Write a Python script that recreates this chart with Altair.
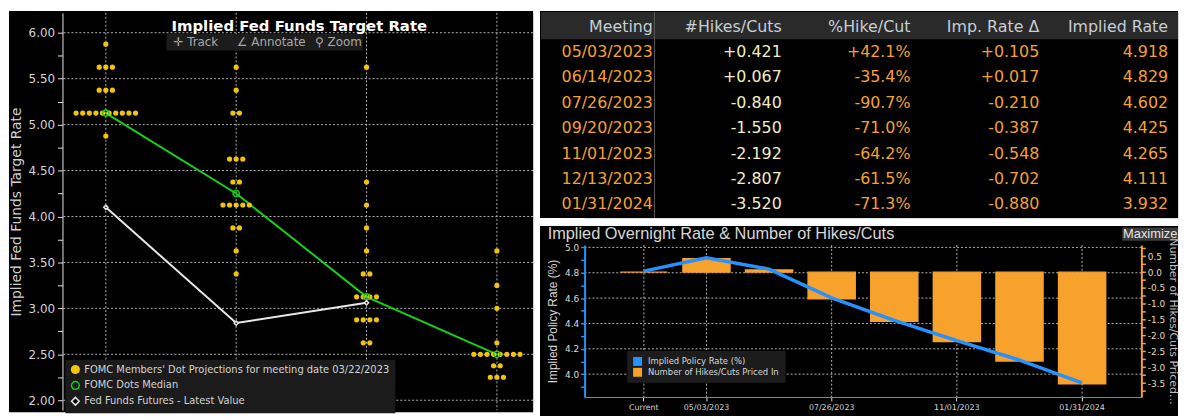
import altair as alt
import pandas as pd

# ---------------- Left panel: FOMC dot plot ----------------
dot_years = ["2023", "2024", "2025", "Longer run"]
rates_2023 = [5.875, 5.625, 5.375, 5.125, 4.875]
counts_2023 = [1, 3, 3, 10, 1]
rates_2024 = [5.625, 5.375, 5.125, 4.625, 4.375, 4.125, 3.875, 3.625, 3.375]
counts_2024 = [1, 1, 2, 3, 2, 5, 2, 1, 1]
rates_2025 = [5.625, 4.375, 4.125, 3.875, 3.625, 3.375, 3.125, 2.875, 2.625, 2.375]
counts_2025 = [1, 1, 1, 1, 1, 2, 4, 4, 2, 1]
rates_lr = [3.625, 3.25, 3.0, 2.625, 2.5, 2.375, 2.25]
counts_lr = [1, 1, 1, 1, 8, 2, 3]
median_rates = [5.125, 4.25, 3.125, 2.5]
futures_years = ["2023", "2024", "2025"]
futures_rates = [4.10, 2.84, 3.06]
left_series = [
    "FOMC Members' Dot Projections for meeting date 03/22/2023",
    "FOMC Dots Median",
    "Fed Funds Futures - Latest Value",
]
left_yticks = [2.0, 2.25, 2.5, 2.75, 3.0, 3.25, 3.5, 3.75, 4.0, 4.25, 4.5,
               4.75, 5.0, 5.25, 5.5, 5.75, 6.0]
left_ygrid = [2.0, 2.5, 3.0, 3.5, 4.0, 4.5, 5.0, 5.5, 6.0]
toolbar_items = ["✛ Track", "∠ Annotate", "⚲ Zoom"]

# ---------------- Table ----------------
table_cols = ["Meeting", "#Hikes/Cuts", "%Hike/Cut", "Imp. Rate Δ", "Implied Rate"]
meetings = ["05/03/2023", "06/14/2023", "07/26/2023", "09/20/2023",
            "11/01/2023", "12/13/2023", "01/31/2024"]
hikes = [0.421, 0.067, -0.840, -1.550, -2.192, -2.807, -3.520]
pct_hike = [42.1, -35.4, -90.7, -71.0, -64.2, -61.5, -71.3]
rate_delta = [0.105, 0.017, -0.210, -0.387, -0.548, -0.702, -0.880]
implied = [4.918, 4.829, 4.602, 4.425, 4.265, 4.111, 3.932]

# ---------------- Bottom-right chart ----------------
bot_cats = ["Current"] + meetings
bot_rate = [4.813] + implied
bot_hikes = [0.0] + hikes
bot_xlabels = ["Current", "05/03/2023", "07/26/2023", "11/01/2023", "01/31/2024"]
bot_left_ticks = [3.9, 4.0, 4.1, 4.2, 4.3, 4.4, 4.5, 4.6, 4.7, 4.8, 4.9, 5.0]
bot_left_grid = [4.0, 4.2, 4.4, 4.6, 4.8, 5.0]
bot_right_ticks = [-3.75, -3.5, -3.25, -3.0, -2.75, -2.5, -2.25, -2.0, -1.75, -1.5,
                   -1.25, -1.0, -0.75, -0.5, -0.25, 0.0, 0.25, 0.5, 0.75]
bot_series = ["Implied Policy Rate (%)", "Number of Hikes/Cuts Priced In"]

YELLOW = "#f2c40c"
GREEN = "#19d019"
WHITE = "#e8e8e8"
ORANGE = "#f7a22d"
BLUE = "#2592ff"
TBL_ORANGE = "#f5a030"
GRID = "#b4b4b4"

one = pd.DataFrame({"k": [0]})

# ======================= LEFT PANEL =======================
L_W, L_H = 475, 401
dots = []
for yr, rs, cs in zip(dot_years, [rates_2023, rates_2024, rates_2025, rates_lr],
                      [counts_2023, counts_2024, counts_2025, counts_lr]):
    for r, c in zip(rs, cs):
        for k in range(c):
            dots.append({"cat": yr, "rate": r, "off": k - (c - 1) / 2, "series": left_series[0]})
dots_df = pd.DataFrame(dots)
med_df = pd.DataFrame({"cat": dot_years, "rate": median_rates, "series": left_series[1]})
fut_df = pd.DataFrame({"cat": futures_years, "rate": futures_rates, "series": left_series[2]})

x_left = alt.X("cat:N", sort=dot_years, axis=None,
               scale=alt.Scale(type="point", domain=dot_years, padding=0.305, align=0.545))
y_left = alt.Y(
    "rate:Q",
    scale=alt.Scale(domain=[1.892, 6.216], nice=False, zero=False),
    axis=alt.Axis(
        values=left_yticks,
        labelExpr="(datum.value * 2) % 1 == 0 ? format(datum.value, '.2f') : ''",
        grid=False, domainColor="#e6e6e6", tickColor="#e6e6e6", tickSize=5,
        labelColor="#d6d6d6", labelFontSize=12, labelPadding=3, labelOverlap=False,
        title="Implied Fed Funds Target Rate", titleColor="#cfcfcf", titleFontSize=14,
        titleFontWeight="normal", titlePadding=5, zindex=1,
    ),
)

leg_l = alt.Legend(title=None, orient="none", legendX=3, legendY=350, fillColor="#1b1b1b",
                   padding=5, labelColor="#d4d4d4", labelFontSize=10, labelLimit=400,
                   rowPadding=2, symbolSize=60, symbolStrokeWidth=1.5, zindex=1)
fill_l = alt.Fill("series:N", legend=leg_l,
                  scale=alt.Scale(domain=left_series, range=[YELLOW, "transparent", "black"]))
stroke_l = alt.Stroke("series:N", legend=leg_l,
                      scale=alt.Scale(domain=left_series, range=[YELLOW, GREEN, WHITE]))
shape_l = alt.Shape("series:N", legend=leg_l,
                    scale=alt.Scale(domain=left_series, range=["circle", "circle", "diamond"]))

bg_l = alt.Chart(one).mark_rect(color="black").encode(
    x=alt.value(-54), x2=alt.value(L_W), y=alt.value(-2), y2=alt.value(403))
gridh_l = alt.Chart(pd.DataFrame({"rate": left_ygrid})).mark_rule(
    color=GRID, strokeDash=[2, 2], strokeWidth=1).encode(y=y_left)
gridv_l = alt.Chart(pd.DataFrame({"cat": dot_years})).mark_rule(
    color=GRID, strokeDash=[2, 2], strokeWidth=1).encode(x=x_left)
green_l = alt.Chart(med_df).mark_line(color=GREEN, strokeWidth=2).encode(x=x_left, y=y_left)
white_l = alt.Chart(fut_df).mark_line(color=WHITE, strokeWidth=2).encode(x=x_left, y=y_left)

dots_l = alt.Chart(dots_df).mark_point(opacity=1, strokeWidth=1.5, size=14).encode(
    x=x_left, y=y_left,
    xOffset=alt.XOffset("off:Q", scale=alt.Scale(domain=[-1, 1], range=[-6.67, 6.67])),
    fill=fill_l, stroke=stroke_l, shape=shape_l,
)
med_pts = alt.Chart(med_df).mark_point(opacity=1, strokeWidth=1.5, size=40).encode(
    x=x_left, y=y_left, fill=fill_l, stroke=stroke_l, shape=shape_l)
fut_pts = alt.Chart(fut_df).mark_point(opacity=1, strokeWidth=1.5, size=18).encode(
    x=x_left, y=y_left, fill=fill_l, stroke=stroke_l, shape=shape_l)

tb_rect = alt.Chart(one).mark_rect(color="#1c1c1c").encode(
    x=alt.value(105), x2=alt.value(303), y=alt.value(21), y2=alt.value(38))
tb_x = [112, 176, 255]
tb_texts = [
    alt.Chart(one).mark_text(align="left", baseline="alphabetic", fontSize=12,
                             color="#a9a9a9").encode(
        x=alt.value(px), y=alt.value(33.5), text=alt.value(label))
    for px, label in zip(tb_x, toolbar_items)
]
title_l = alt.Chart(one).mark_text(align="center", baseline="alphabetic", fontSize=15,
                                   fontWeight="bold", color="white").encode(
    x=alt.value(239), y=alt.value(18), text=alt.value("Implied Fed Funds Target Rate"))

left = alt.layer(bg_l, gridh_l, gridv_l, green_l, white_l, dots_l, med_pts, fut_pts,
                 tb_rect, *tb_texts, title_l).properties(width=L_W, height=L_H)

# ======================= TABLE =======================
T_W, T_H = 599, 207
table_rows = ["hdr"] + meetings
cells = [{"row": "hdr", "col": c, "txt": c, "kind": "header"} for c in table_cols]
for i, m in enumerate(meetings):
    vals = [m, f"{hikes[i]:+.3f}", f"{pct_hike[i]:+.1f}%", f"{rate_delta[i]:+.3f}",
            f"{implied[i]:.3f}"]
    kinds = ["date", "hike", "other", "other", "other"]
    for c, v, kd in zip(table_cols, vals, kinds):
        cells.append({"row": m, "col": c, "txt": v, "kind": kd})
cells_df = pd.DataFrame(cells)

bg_t = alt.Chart(one).mark_rect(color="black").encode(
    x=alt.value(-45), x2=alt.value(T_W), y=alt.value(-2), y2=alt.value(T_H))
hdr_t = alt.Chart(one).mark_rect(color="#2a2a2a").encode(
    x=alt.value(-44), x2=alt.value(T_W), y=alt.value(-1), y2=alt.value(26.5))
sep_t = alt.Chart(one).mark_rule(color="#5c5c5c", strokeWidth=1).encode(
    x=alt.value(70.5), y=alt.value(-1), y2=alt.value(T_H))
text_t = alt.Chart(cells_df).mark_text(align="right", baseline="alphabetic", fontSize=16).encode(
    x=alt.X("col:N", sort=table_cols, axis=None,
            scale=alt.Scale(type="point", domain=table_cols, padding=0.304, align=0.873)),
    y=alt.Y("row:N", sort=table_rows, axis=None,
            scale=alt.Scale(type="point", domain=table_rows, padding=0.543, align=0.683)),
    text="txt:N",
    color=alt.Color("kind:N", legend=None,
                    scale=alt.Scale(domain=["header", "date", "hike", "other"],
                                    range=["#c6ced6", TBL_ORANGE, "#f3eec0", TBL_ORANGE])),
)
table = alt.layer(bg_t, hdr_t, sep_t, text_t).properties(width=T_W, height=T_H)

# ======================= BOTTOM CHART =======================
B_W, B_H = 562, 153.4
bot_df = pd.DataFrame({"cat": bot_cats, "rate": bot_rate, "hikes": bot_hikes})
bar_df = bot_df.assign(series=bot_series[1])
line_df = bot_df.assign(series=bot_series[0])

xs_b = alt.Scale(type="band", domain=bot_cats, paddingInner=0.225, paddingOuter=0.559)
x_axis_b = alt.Axis(values=bot_xlabels, title=None, labelAngle=0, labelFontSize=8,
                    labelColor="#d8d8d8", tickColor="#e0e0e0", tickSize=4,
                    domainColor="#8a8a8a", grid=False, labelPadding=3, zindex=1)
x_b = alt.X("cat:N", sort=bot_cats, scale=xs_b, axis=x_axis_b)

rate_scale_b = alt.Scale(domain=[3.82, 5.019], nice=False, zero=False)
y_rate_axis = alt.Y(
    "rate:Q", scale=rate_scale_b,
    axis=alt.Axis(
        orient="left", values=bot_left_ticks,
        labelExpr="abs(round(datum.value * 10)) % 2 == 0 ? format(datum.value, '.1f') : ''",
        grid=False, domainColor=BLUE, domainWidth=2, tickColor=BLUE, tickWidth=1.5,
        tickSize=4, labelColor="#dcdcdc", labelFontSize=9, labelPadding=2, labelOverlap=False,
        title="Implied Policy Rate (%)", titleColor="#d6d6d6", titleFontSize=12,
        titleFont="Liberation Sans", titleFontWeight="normal", titlePadding=5, zindex=1,
    ),
)
y_rate_noaxis = alt.Y("rate:Q", scale=rate_scale_b, axis=None)
y_hikes = alt.Y(
    "hikes:Q", scale=alt.Scale(domain=[-3.94, 0.856], nice=False, zero=False),
    axis=alt.Axis(
        orient="right", values=bot_right_ticks,
        labelExpr="(datum.value * 2) % 1 == 0 ? replace(format(datum.value, '.1f'), '\u2212', '-') : ''",
        grid=False, domainColor=ORANGE, domainWidth=2, tickColor=ORANGE, tickWidth=1.5,
        tickSize=4, labelColor="#e6d9bc", labelFontSize=9, labelPadding=2, labelOverlap=False,
        title="Number of Hikes/Cuts Priced In", titleColor="#bdbdbd", titleFontSize=11,
        titleFontWeight="normal", titlePadding=3, titleLimit=170, zindex=1,
    ),
)
leg_b = alt.Legend(title=None, orient="none", legendX=43, legendY=107, fillColor="#1c1c1c",
                   padding=6, labelColor="#d8d8d8", labelFontSize=8.5, labelLimit=300,
                   rowPadding=2, symbolType="square", symbolSize=81, symbolStrokeWidth=0,
                   labelOffset=6, zindex=1)
color_b = alt.Color("series:N", legend=leg_b,
                    scale=alt.Scale(domain=bot_series, range=[BLUE, ORANGE]))

bg_b = alt.Chart(one).mark_rect(color="black").encode(
    x=alt.value(-45), x2=alt.value(599), y=alt.value(-19.3), y2=alt.value(172.7))
title_b = alt.Chart(one).mark_text(align="left", baseline="alphabetic", fontSize=16.5,
                                   font="Liberation Sans", color="#d8d8d8").encode(
    x=alt.value(-37.3), y=alt.value(-6.3),
    text=alt.value("Implied Overnight Rate & Number of Hikes/Cuts"))
max_rect = alt.Chart(one).mark_rect(color="#3b3b3b").encode(
    x=alt.value(542.7), x2=alt.value(599), y=alt.value(-17.6), y2=alt.value(-4.3))
max_text = alt.Chart(one).mark_text(align="left", baseline="alphabetic", fontSize=13,
                                    font="Liberation Sans", color="#e4e4e4").encode(
    x=alt.value(543.5), y=alt.value(-7), text=alt.value("Maximize"))
gridv_b = alt.Chart(pd.DataFrame({"cat": bot_xlabels})).mark_rule(
    color=GRID, strokeDash=[2, 2], strokeWidth=1).encode(x=x_b)
gridh_b = alt.Chart(pd.DataFrame({"rate": bot_left_grid})).mark_rule(
    color=GRID, strokeDash=[2, 2], strokeWidth=1).encode(y=y_rate_axis)
bars_b = alt.Chart(bar_df).mark_bar(stroke=ORANGE, strokeWidth=1.5, width=47.5).encode(
    x=x_b, y=y_hikes, y2=alt.Y2(datum=0), color=color_b)
line_b = alt.Chart(line_df).mark_line(strokeWidth=3.5).encode(
    x=x_b, y=y_rate_noaxis, color=color_b)

bottom = alt.layer(bg_b, title_b, max_rect, max_text, gridv_b, gridh_b, bars_b, line_b
                   ).resolve_scale(y="independent").properties(width=B_W, height=B_H)

right_col = alt.vconcat(table, bottom, spacing=27.3, bounds="flush").resolve_scale(
    color="independent").resolve_legend(color="independent")

chart = alt.hconcat(left, right_col, spacing=52, bounds="flush").resolve_scale(
    color="independent", fill="independent", stroke="independent",
    shape="independent", size="independent"
).resolve_legend(
    color="independent", fill="independent", stroke="independent",
    shape="independent", size="independent"
).properties(
    padding=0, background="white"
).configure_view(strokeWidth=0).configure(font="DejaVu Sans")

chart.save("out.html", embed_options={"renderer": "svg", "actions": False})
